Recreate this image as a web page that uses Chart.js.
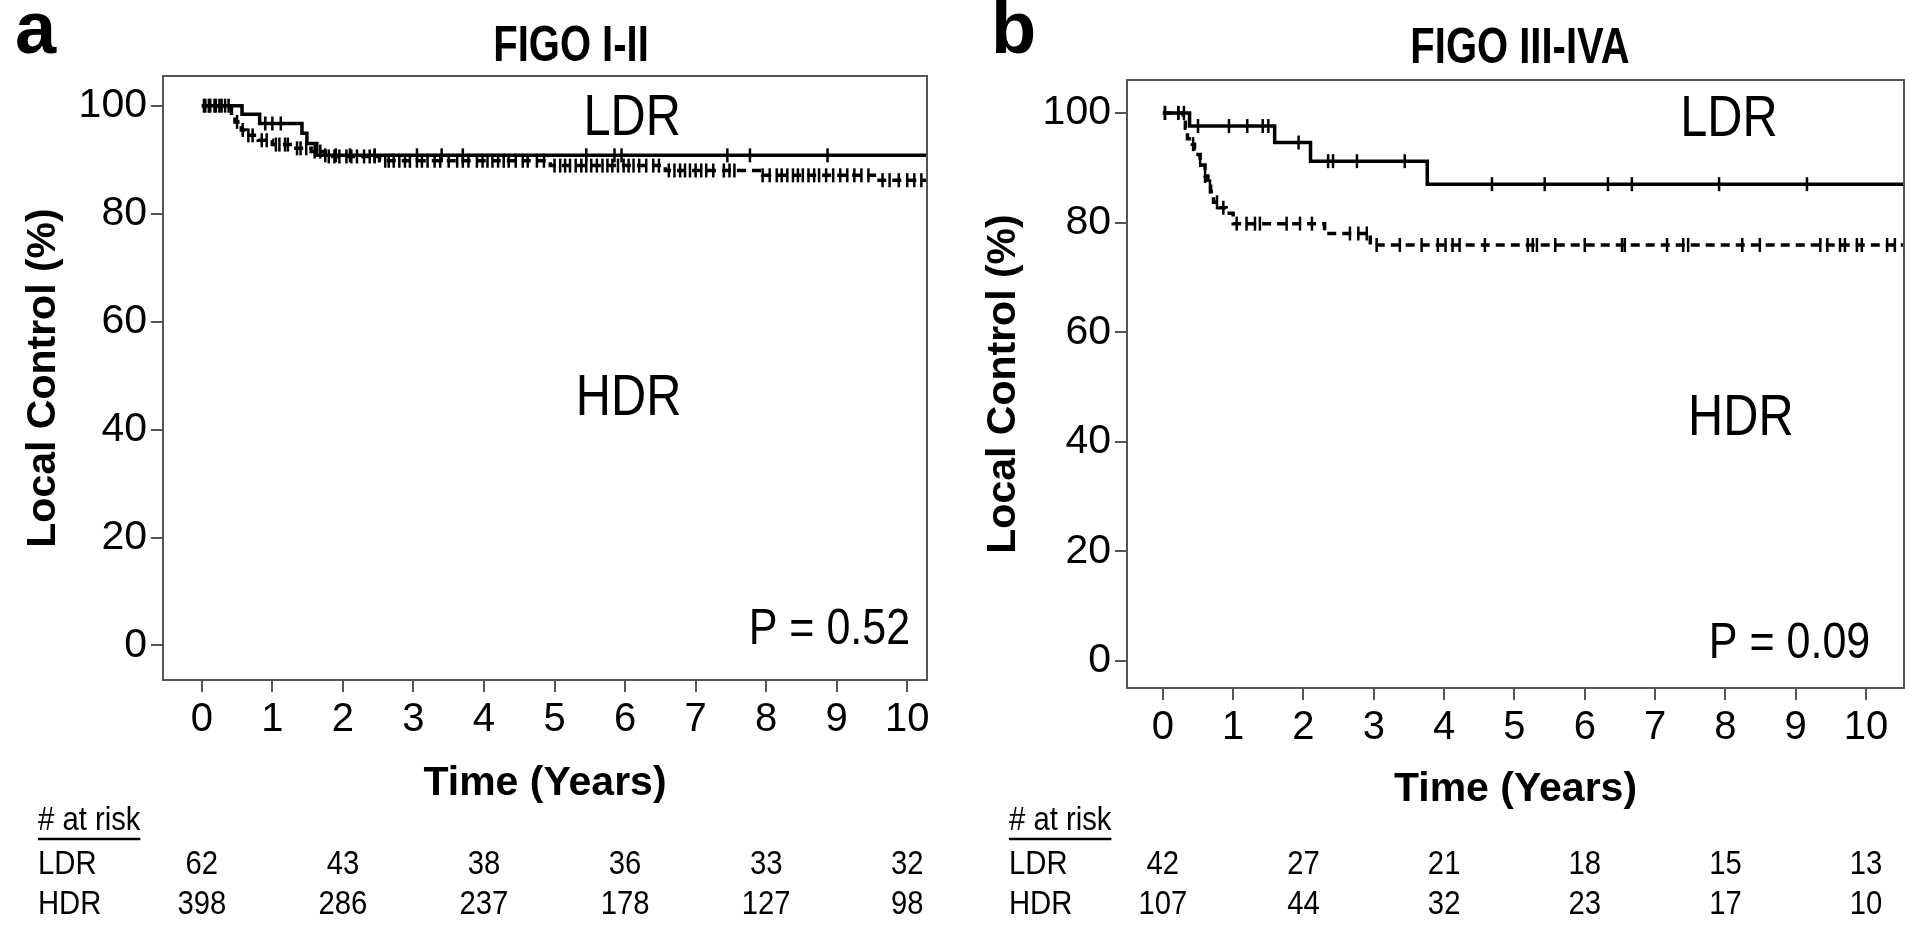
<!DOCTYPE html>
<html>
<head>
<meta charset="utf-8">
<script src="https://cdn.jsdelivr.net/npm/chart.js@4.4.1/dist/chart.umd.min.js"></script>
<style>
  html, body { margin: 0; padding: 0; background: #fff; }
  #wrap { position: relative; width: 1920px; height: 928px; overflow: hidden; }
  .panel { position: absolute; top: 0; width: 960px; height: 928px; }
</style>
</head>
<body>
<div id="wrap">
  <div class="panel" style="left:0"><canvas id="chartA" width="960" height="928"></canvas></div>
  <div class="panel" style="left:960px"><canvas id="chartB" width="960" height="928"></canvas></div>
</div>
<script>
const xTicks = [0, 1, 2, 3, 4, 5, 6, 7, 8, 9, 10];
const yTicks = [0, 20, 40, 60, 80, 100];
const riskTimes = [0, 2, 4, 6, 8, 10];

// FIGO I-II
const aLdrTimes = [0, 0.57, 0.82, 1.42, 1.49, 1.63, 10.6];
const aLdrSurv  = [100, 98.4, 96.7, 94.9, 93.0, 90.8, 90.8];
const aLdrCens  = [0.03, 0.12, 0.2, 0.28, 0.38, 0.9, 1.0, 1.12, 1.75, 1.9, 2.1, 2.45, 3.05, 3.4, 3.7,
                   5.45, 5.85, 5.95, 7.45, 7.77, 8.87];
const aHdrTimes = [0, 0.42, 0.47, 0.56, 0.62, 0.8, 1.0, 1.3, 1.55, 1.75, 2.52, 4.94, 6.57, 7.95, 9.6, 10.6];
const aHdrSurv  = [100, 98.6, 97.0, 95.5, 94.5, 93.6, 92.8, 92.1, 91.5, 90.6, 89.8, 88.9, 88.0, 87.1, 86.2, 86.2];
const aHdrCens  = [0.05, 0.1, 0.18, 0.25, 0.33, 0.5, 0.58, 0.66, 0.72, 0.85, 0.92, 1.05, 1.1, 1.18, 1.22,
                   1.35, 1.4, 1.48, 1.6, 1.68, 1.8, 1.88, 1.95, 2.05, 2.12, 2.2, 2.3, 2.38, 2.45, 2.6, 2.65,
                   2.72, 2.8, 2.88, 2.95, 3.05, 3.12, 3.2, 3.3, 3.38, 3.5, 3.62, 3.7, 3.78, 3.9, 3.98, 4.05,
                   4.12, 4.2, 4.28, 4.35, 4.45, 4.55, 4.62, 4.75, 4.85, 5.0, 5.08, 5.15, 5.22, 5.3, 5.38,
                   5.45, 5.52, 5.6, 5.68, 5.75, 5.82, 5.9, 5.98, 6.05, 6.12, 6.2, 6.3, 6.4, 6.48, 6.62, 6.7,
                   6.78, 6.85, 6.92, 7.0, 7.08, 7.15, 7.25, 7.4, 7.48, 7.55, 7.95, 8.05, 8.15, 8.22, 8.3,
                   8.38, 8.45, 8.52, 8.6, 8.68, 8.75, 8.85, 8.95, 9.05, 9.15, 9.25, 9.35, 9.45, 9.65, 9.75,
                   9.88, 10.0, 10.1, 10.2];
const aRiskLdr = [62, 43, 38, 36, 33, 32];
const aRiskHdr = [398, 286, 237, 178, 127, 98];

// FIGO III-IVA
const bLdrTimes = [0, 0.38, 1.59, 2.1, 3.76, 10.7];
const bLdrSurv  = [100, 97.6, 94.6, 91.2, 87.0, 87.0];
const bLdrCens  = [0.03, 0.22, 0.3, 0.5, 0.94, 1.2, 1.42, 1.5, 1.93, 2.35, 2.42, 2.76, 3.44, 4.68, 5.43,
                   6.33, 6.67, 7.91, 9.16];
const bHdrTimes = [0, 0.29, 0.32, 0.35, 0.42, 0.45, 0.5, 0.53, 0.56, 0.6, 0.64, 0.68, 0.72, 0.8, 0.9, 1.0,
                   2.3, 2.95, 10.7];
const bHdrSurv  = [100, 99.1, 97.2, 95.3, 94.3, 93.4, 92.4, 91.4, 90.5, 88.5, 86.6, 85.6, 83.7, 82.7, 81.7,
                   79.8, 78.0, 75.9, 75.9];
const bHdrCens  = [0.03, 0.22, 0.43, 0.53, 0.6, 0.67, 0.77, 0.86, 1.05, 1.19, 1.31, 1.38, 1.76, 1.95, 2.12,
                   2.66, 2.78, 2.9, 3.04, 3.37, 3.68, 3.91, 4.02, 4.12, 4.22, 4.58, 5.19, 5.26, 5.32, 5.58,
                   6.0, 6.53, 6.57, 7.17, 7.4, 7.47, 8.24, 8.49, 9.35, 9.45, 9.63, 9.7, 9.87, 9.94, 10.3, 10.41];
const bRiskLdr = [42, 27, 21, 18, 15, 13];
const bRiskHdr = [107, 44, 32, 23, 17, 10];

const SANS = '"Liberation Sans", Arial, sans-serif';
const FRAME = '#555';

// survival value at time t (for placing the censor marks on the curve)
function survAt(times, surv, t) {
  let s = surv[0];
  for (let i = 0; i < times.length; i++) {
    if (times[i] <= t) s = surv[i];
  }
  return s;
}

function curve(times, surv, dashed) {
  return {
    data: times.map((t, i) => ({ x: t, y: surv[i] })),
    showLine: true,
    stepped: true,
    borderColor: '#000',
    borderWidth: 3.5,
    borderDash: dashed ? [9, 6] : [],
    pointRadius: 0,
  };
}

function censors(cens, times, surv) {
  return {
    data: cens.map(t => ({ x: t, y: survAt(times, surv, t) })),
    showLine: false,
    pointStyle: 'line',
    rotation: 90,
    pointRadius: 7,
    pointBorderWidth: 2.5,
    borderColor: '#000',
    backgroundColor: '#000',
  };
}

// condensed text (the original uses a Calibri-like face)
function narrowText(ctx, text, x, y, font, align, sx) {
  ctx.save();
  ctx.font = font;
  ctx.textAlign = align;
  ctx.translate(x, y);
  ctx.scale(sx, 1);
  ctx.fillText(text, 0, 0);
  const w = ctx.measureText(text).width * sx;
  ctx.restore();
  return w;
}

const decor = {
  id: 'decor',
  afterDraw(chart, args, o) {
    const { ctx, chartArea: ca, scales: { x, y } } = chart;
    ctx.save();
    // box around the plot
    ctx.strokeStyle = FRAME;
    ctx.lineWidth = 2;
    ctx.strokeRect(ca.left, ca.top, ca.right - ca.left, ca.bottom - ca.top);

    ctx.fillStyle = '#000';
    ctx.textBaseline = 'alphabetic';
    ctx.font = 'bold 74px ' + SANS;
    ctx.textAlign = 'left';
    ctx.fillText(o.letter, o.letterX, 53);

    narrowText(ctx, o.title, o.titleX, o.titleY, 'bold 50px ' + SANS, 'center', 0.8);

    narrowText(ctx, 'LDR', x.getPixelForValue(o.ldrAt[0]), y.getPixelForValue(o.ldrAt[1]), '58px ' + SANS, 'center', 0.84);
    narrowText(ctx, 'HDR', x.getPixelForValue(o.hdrAt[0]), y.getPixelForValue(o.hdrAt[1]), '58px ' + SANS, 'center', 0.84);
    narrowText(ctx, o.pText, x.getPixelForValue(o.pAt[0]), y.getPixelForValue(o.pAt[1]), '50px ' + SANS, 'right', 0.86);

    // numbers at risk
    ctx.textBaseline = 'middle';
    const rf = '34px ' + SANS;
    const w = narrowText(ctx, '# at risk', o.riskX, 821, rf, 'left', 0.86);
    ctx.lineWidth = 2.5;
    ctx.strokeStyle = '#000';
    ctx.beginPath();
    ctx.moveTo(o.riskX, 839);
    ctx.lineTo(o.riskX + w, 839);
    ctx.stroke();
    narrowText(ctx, 'LDR', o.riskX, 865, rf, 'left', 0.86);
    narrowText(ctx, 'HDR', o.riskX, 905, rf, 'left', 0.86);
    riskTimes.forEach((t, i) => {
      const px = x.getPixelForValue(t);
      narrowText(ctx, String(o.riskLdr[i]), px, 865, rf, 'center', 0.86);
      narrowText(ctx, String(o.riskHdr[i]), px, 905, rf, 'center', 0.86);
    });
    ctx.restore();
  }
};

function makeChart(id, c) {
  return new Chart(document.getElementById(id), {
    type: 'scatter',
    data: {
      datasets: [
        curve(c.ldrTimes, c.ldrSurv, false),
        curve(c.hdrTimes, c.hdrSurv, true),
        censors(c.ldrCens, c.ldrTimes, c.ldrSurv),
        censors(c.hdrCens, c.hdrTimes, c.hdrSurv),
      ]
    },
    options: {
      responsive: false,
      animation: false,
      events: [],
      layout: { padding: c.padding },
      plugins: {
        legend: { display: false },
        tooltip: { enabled: false },
        decor: c.decor,
      },
      scales: {
        x: {
          type: 'linear',
          min: c.xMin,
          max: c.xMax,
          afterBuildTicks: s => { s.ticks = xTicks.map(v => ({ value: v })); },
          afterFit: s => { s.height = c.xHeight; },
          grid: { drawOnChartArea: false, drawTicks: true, tickLength: 12, color: FRAME, lineWidth: 2 },
          border: { display: false },
          ticks: { color: '#000', font: { family: SANS, size: 40 }, padding: 4, maxRotation: 0, autoSkip: false },
          title: { display: true, text: 'Time (Years)', color: '#000', padding: 0,
                   font: { family: SANS, size: 41, weight: 'bold', lineHeight: 1 } }
        },
        y: {
          min: c.yMin,
          max: c.yMax,
          afterBuildTicks: s => { s.ticks = yTicks.map(v => ({ value: v })); },
          afterFit: s => { s.width = c.yWidth; },
          grid: { drawOnChartArea: false, drawTicks: true, tickLength: 12, color: FRAME, lineWidth: 2 },
          border: { display: false },
          ticks: { color: '#000', font: { family: SANS, size: 41 }, padding: 4 },
          title: { display: true, text: 'Local Control (%)', color: '#000', padding: 0,
                   font: { family: SANS, size: 41, weight: 'bold', lineHeight: 1 } }
        }
      }
    },
    plugins: [decor]
  });
}

makeChart('chartA', {
  ldrTimes: aLdrTimes, ldrSurv: aLdrSurv, ldrCens: aLdrCens,
  hdrTimes: aHdrTimes, hdrSurv: aHdrSurv, hdrCens: aHdrCens,
  xMin: -0.55, xMax: 10.28, yMin: -6.4, yMax: 105.5,
  yWidth: 140, xHeight: 124,
  padding: { left: 23, right: 33, top: 76, bottom: 124 },
  decor: {
    letter: 'a', letterX: 15, title: 'FIGO I-II', titleX: 571, titleY: 61,
    ldrAt: [6.1, 94.6], hdrAt: [6.05, 42.7], pText: 'P = 0.52', pAt: [10.04, 0.3],
    riskX: 38, riskLdr: aRiskLdr, riskHdr: aRiskHdr
  }
});

makeChart('chartB', {
  ldrTimes: bLdrTimes, ldrSurv: bLdrSurv, ldrCens: bLdrCens,
  hdrTimes: bHdrTimes, hdrSurv: bHdrSurv, hdrCens: bHdrCens,
  xMin: -0.51, xMax: 10.54, yMin: -4.9, yMax: 106,
  yWidth: 144, xHeight: 122,
  padding: { left: 23, right: 16, top: 80, bottom: 118 },
  decor: {
    letter: 'b', letterX: 31, title: 'FIGO III-IVA', titleX: 560, titleY: 63,
    ldrAt: [8.05, 95.8], hdrAt: [8.22, 41.2], pText: 'P = 0.09', pAt: [10.06, 0.6],
    riskX: 49, riskLdr: bRiskLdr, riskHdr: bRiskHdr
  }
});
</script>
</body>
</html>
